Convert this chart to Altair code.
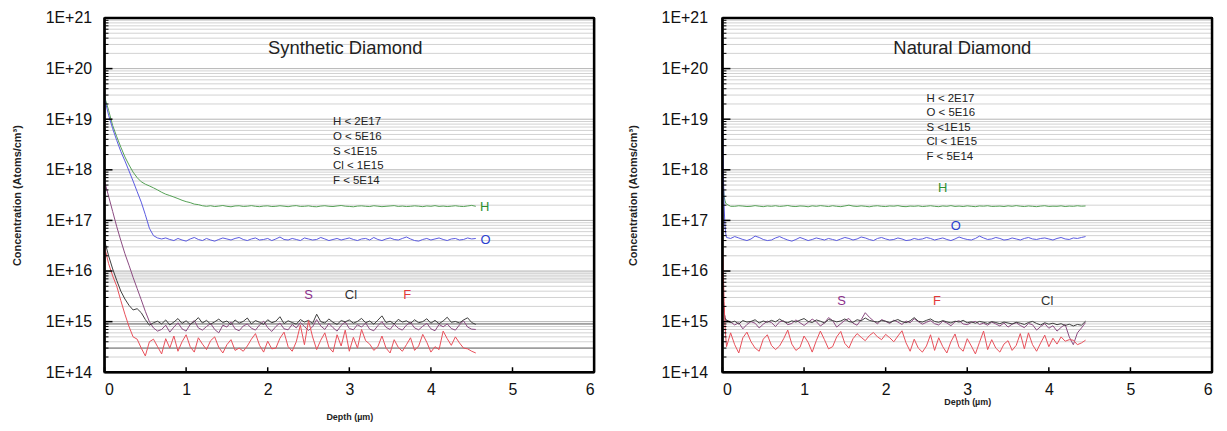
import altair as alt
import pandas as pd

FONT = "Arial"

# ---------------- data: Synthetic diamond (depth 0 .. 4.55 um, step 0.05) ----------------
depth_syn = [round(0.05 * i, 2) for i in range(92)]

H_syn = [2.8e19, 1.5e19, 7.5e18, 4.5e18, 2.8e18, 1.8e18, 1.25e18, 9.0e17, 7.0e17, 5.8e17,
         5.2e17, 4.8e17, 4.4e17, 4.0e17, 3.6e17, 3.3e17, 3.1e17, 2.9e17, 2.7e17, 2.5e17,
         2.35e17, 2.25e17, 2.1e17, 2.05e17, 1.95e17, 1.9e17] + [v * 1e17 for v in [
    1.95, 1.88, 1.92, 1.97, 1.90, 1.86, 1.93, 1.95, 1.89, 1.91,
    1.96, 1.90, 1.87, 1.92, 1.94, 1.88, 1.90, 1.95, 1.91, 1.87,
    1.93, 1.96, 1.89, 1.90, 1.94, 1.88, 1.86, 1.92, 1.95, 1.90,
    1.88, 1.93, 1.97, 1.91, 1.89, 1.86, 1.92, 1.94, 1.90, 1.88,
    1.95, 1.91, 1.87, 1.90, 1.93, 1.96, 1.89, 1.92, 1.88, 1.90,
    1.94, 1.91, 1.87, 1.93, 1.90, 1.96, 1.89, 1.92, 1.88, 1.91,
    1.95, 1.90, 1.88, 1.93, 1.98, 1.90]]

O_syn = [2.6e19, 1.2e19, 6.5e18, 3.8e18, 2.3e18, 1.5e18, 9.5e17, 6.0e17, 3.7e17, 2.3e17,
         1.3e17, 7.0e16, 5.0e16, 4.5e16, 4.3e16] + [v * 1e16 for v in [
    4.5, 4.2, 4.0, 4.4, 4.1, 3.9, 4.3, 4.6, 4.2, 4.0,
    4.4, 4.1, 3.9, 4.2, 4.5, 4.3, 4.1, 4.4, 4.6, 4.2,
    4.0, 4.3, 4.5, 4.1, 4.2, 4.4, 4.0, 4.3, 4.7, 4.2,
    4.1, 4.4, 4.2, 4.0, 4.5, 4.3, 4.1, 4.2, 4.6, 4.3,
    4.0, 4.2, 4.4, 4.1, 4.3, 4.5, 4.2, 4.0, 4.3, 4.4,
    4.1, 4.6, 4.2, 4.0, 4.3, 4.5, 4.2, 4.1, 4.4, 4.7,
    4.3, 4.0, 3.9, 4.2, 4.4, 4.1, 4.3, 4.5, 4.2, 4.0,
    4.3, 4.4, 4.1, 4.2, 4.5, 4.3, 4.4]]

S_syn = [6.0e17, 3.0e17, 1.5e17, 7.5e16, 4.0e16, 2.2e16, 1.3e16, 7.5e15, 4.5e15, 2.7e15,
         1.6e15, 1.0e15, 7.5e14, 6.5e14] + [v * 1e14 for v in [
    7.0, 8.5, 6.2, 7.8, 9.5, 7.2, 6.5, 8.8, 10.5, 7.5,
    6.8, 8.0, 9.2, 7.0, 6.0, 8.5, 7.8, 9.8, 7.2, 6.6,
    8.2, 9.0, 7.4, 6.8, 8.6, 10.2, 7.6, 6.4, 8.0, 9.4,
    7.2, 6.9, 8.8, 7.5, 9.6, 8.0, 6.7, 7.9, 11.0, 8.2,
    7.0, 9.2, 7.6, 6.5, 8.4, 9.9, 7.3, 6.9, 8.7, 7.8,
    9.4, 7.1, 6.6, 8.3, 10.0, 7.7, 7.0, 8.9, 7.4, 6.8,
    8.5, 9.7, 7.5, 6.9, 8.1, 9.3, 7.2, 6.6, 8.8, 7.9,
    9.0, 7.3, 6.8, 8.6, 10.4, 7.8, 7.1, 7.0]]

Cl_syn = [4.0e16, 2.0e16, 1.1e16, 6.5e15, 4.0e15, 2.8e15, 2.1e15, 1.7e15, 1.8e15, 1.5e15,
          1.1e15, 8.5e14, 9.5e14] + [v * 1e14 for v in [
    10.2, 9.0, 10.8, 8.6, 9.8, 11.5, 9.2, 10.4, 8.8, 10.0,
    12.0, 9.4, 10.6, 8.9, 9.9, 11.2, 9.6, 10.3, 8.7, 10.8,
    9.3, 10.1, 11.8, 9.0, 10.5, 9.7, 8.8, 10.9, 9.5, 10.2,
    12.5, 9.1, 10.4, 9.6, 8.9, 11.0, 9.8, 10.6, 9.2, 14.0,
    10.0, 9.4, 11.3, 9.7, 8.8, 10.5, 9.9, 10.8, 9.3, 10.1,
    11.6, 9.5, 10.3, 8.9, 10.7, 13.0, 9.6, 10.2, 9.0, 11.1,
    9.8, 10.4, 9.2, 10.9, 9.5, 10.0, 11.4, 9.3, 10.6, 9.1,
    10.3, 12.2, 9.7, 10.1, 9.4, 10.8, 11.9, 9.6, 8.8]]

F_syn = [3.0e16, 1.4e16, 8.0e15, 5.0e15, 2.6e15, 1.4e15, 8.0e14, 5.0e14, 4.5e14, 3.0e14,
         2.1e14, 4.0e14, 4.5e14, 3.2e14, 2.3e14] + [v * 1e14 for v in [
    4.6, 3.0, 5.2, 2.6, 4.0, 5.5, 3.2, 2.5, 4.8, 3.6,
    2.8, 4.2, 5.0, 3.1, 2.4, 3.5, 4.4, 2.7, 3.0, 2.6,
    3.3, 4.5, 5.8, 3.4, 2.5, 4.1, 2.9, 3.0, 4.7, 6.2,
    3.2, 2.6, 4.0, 8.5, 3.5, 10.5, 5.0, 2.8, 4.3, 6.0,
    3.1, 2.5, 5.5, 3.3, 6.8, 2.6, 4.9, 3.0, 7.0, 4.2,
    3.6, 2.7, 3.2, 5.2, 3.0, 2.4, 4.4, 3.1, 2.6, 3.5,
    4.8, 2.7, 3.3, 5.6, 3.9, 2.5, 3.2, 2.8, 6.5, 4.6,
    3.4, 5.0, 3.8, 3.0, 2.9, 2.6, 2.4]]

# ---------------- data: Natural diamond (depth 0 .. 4.45 um) ----------------
depth_nat = [0.0, 0.01, 0.02, 0.03, 0.04] + [round(0.05 * i, 2) for i in range(1, 90)]

H_nat = [1.0e18, 5.0e17, 3.0e17, 2.5e17, 2.2e17, 2.1e17, 1.9e17] + [v * 1e17 for v in [
    1.90, 1.95, 1.92, 1.88, 1.90, 1.96, 1.91, 1.87, 1.93, 1.90,
    1.95, 1.89, 1.92, 1.97, 1.90, 1.88, 1.93, 1.91, 1.86, 1.94,
    1.90, 1.96, 1.92, 1.88, 1.95, 1.90, 1.87, 1.93, 2.00, 1.92,
    1.89, 1.94, 1.90, 1.86, 1.92, 1.95, 1.90, 1.88, 1.93, 1.91,
    1.96, 1.89, 1.87, 1.92, 1.90, 1.94, 1.88, 1.91, 1.95, 1.90,
    1.87, 1.93, 1.90, 1.96, 1.89, 1.92, 1.88, 1.94, 1.90, 1.87,
    1.93, 1.91, 1.95, 1.89, 1.90, 1.92, 1.88, 1.94, 1.90, 1.96,
    1.91, 1.88, 1.93, 1.90, 1.87, 1.92, 1.95, 1.89, 1.91, 1.90,
    1.94, 1.88, 1.92, 1.90, 1.95, 1.91, 1.93]]

O_nat = [1.0e19, 1.0e18, 2.0e17, 8.0e16, 5.5e16, 4.6e16] + [v * 1e16 for v in [
    4.4, 4.8, 4.5, 4.2, 4.0, 4.3, 4.9, 4.6, 4.2, 4.0,
    4.1, 4.5, 4.8, 4.4, 4.1, 3.9, 4.2, 4.6, 4.3, 4.0,
    4.2, 4.5, 4.3, 4.1, 4.4, 4.2, 4.0, 4.3, 4.6, 4.4,
    4.1, 4.3, 4.7, 4.5, 4.2, 4.0, 4.4, 4.6, 4.3, 4.1,
    4.2, 4.5, 4.3, 4.0, 4.1, 4.4, 4.2, 4.3, 4.6, 4.4,
    4.1, 4.3, 4.5, 4.2, 4.0, 4.3, 4.7, 4.4, 4.2, 4.1,
    4.4, 4.9, 4.5, 4.2, 4.3, 4.6, 4.4, 4.1, 4.2, 4.5,
    4.3, 4.1, 4.4, 4.6, 4.3, 4.2, 4.4, 4.5, 4.3, 4.1,
    4.4, 4.6, 4.3, 4.2, 4.5, 4.4, 4.6, 4.8]]

S_nat = [4.0e15, 2.5e15, 1.6e15, 1.2e15, 1.05e15] + [v * 1e14 for v in [
    10.5, 9.8, 8.6, 9.5, 7.2, 8.8, 10.0, 9.3, 7.5, 8.9,
    10.2, 9.6, 8.0, 9.9, 10.4, 8.7, 9.2, 10.8, 9.5, 8.4,
    9.7, 11.2, 10.0, 8.2, 9.4, 12.0, 10.5, 7.8, 9.1, 10.6,
    11.5, 9.3, 8.5, 10.9, 15.0, 12.2, 10.4, 9.0, 11.0, 10.1,
    9.2, 10.7, 9.8, 8.8, 10.3, 9.5, 11.4, 10.0, 8.9, 9.7,
    10.5, 9.1, 8.6, 10.2, 9.4, 8.3, 9.9, 10.4, 9.0, 8.7,
    9.6, 10.1, 8.8, 9.3, 8.5, 9.8, 9.0, 8.2, 9.4, 7.8,
    8.9, 9.5, 8.4, 7.6, 9.2, 8.7, 6.8, 8.0, 9.1, 7.4,
    8.3, 6.5, 7.7, 8.8, 5.0, 3.5, 6.0, 7.5, 9.6]]

Cl_nat = [8.0e15, 3.0e15, 1.6e15, 1.2e15, 1.1e15] + [v * 1e14 for v in [
    10.8, 9.6, 10.2, 9.0, 10.5, 9.8, 10.1, 10.9, 9.4, 10.3,
    9.7, 10.6, 9.9, 11.2, 10.0, 9.5, 10.4, 9.8, 10.7, 11.5,
    10.1, 9.6, 10.8, 10.2, 9.4, 11.0, 10.5, 9.9, 10.3, 11.3,
    10.0, 9.7, 10.9, 10.4, 11.8, 10.6, 10.1, 9.8, 10.5, 10.2,
    9.6, 10.3, 11.0, 10.0, 9.5, 10.4, 12.0, 10.2, 9.8, 10.6,
    11.3, 10.1, 9.7, 10.5, 9.9, 9.4, 10.2, 9.8, 10.6, 9.5,
    9.9, 9.3, 10.1, 9.7, 9.2, 10.0, 9.6, 9.1, 9.8, 9.4,
    9.0, 9.7, 9.3, 8.8, 9.6, 10.1, 9.2, 8.6, 9.5, 8.9,
    9.3, 8.7, 9.1, 8.4, 8.9, 8.2, 8.8, 8.5, 10.2]]

F_nat = [3.0e16, 1.0e16, 2.5e15, 9.0e14, 5.0e14] + [v * 1e14 for v in [
    3.2, 6.0, 3.5, 2.4, 4.8, 6.2, 4.0, 3.0, 2.6, 4.5,
    5.5, 3.4, 2.8, 3.3, 4.6, 6.8, 3.6, 2.7, 3.1, 5.2,
    3.9, 2.5, 4.2, 6.5, 4.4, 2.9, 3.2, 5.0, 6.4, 3.7,
    3.0, 4.6, 5.8, 4.9, 4.2, 5.3, 6.1, 5.0, 4.4, 5.6,
    4.8, 4.0, 5.2, 6.6, 3.8, 2.6, 4.5, 3.0, 2.5, 3.3,
    5.5, 2.7, 4.8, 3.2, 2.4, 4.0, 5.7, 3.1, 2.6, 4.6,
    3.3, 2.3, 3.9, 6.5, 2.8, 4.4, 3.0, 2.5, 3.6, 4.2,
    2.7, 3.4, 5.8, 2.9, 6.0, 3.5, 2.6, 3.8, 5.4, 3.2,
    4.7, 3.6, 5.0, 4.1, 4.4, 4.3, 3.5, 3.8, 4.3]]

for s in (H_syn, O_syn, S_syn, Cl_syn, F_syn):
    assert len(s) == len(depth_syn), len(s)
for s in (H_nat, O_nat, S_nat, Cl_nat, F_nat):
    assert len(s) == len(depth_nat), len(s)

elements = ["H", "O", "S", "Cl", "F"]
line_colors = ["#55a055", "#5a5ae0", "#8a4a80", "#3c3c3c", "#e8505a"]
label_colors = {"H": "#2f8f2f", "O": "#2a3fd0", "S": "#8b2f8b", "Cl": "#333333", "F": "#e33a3a"}

detection_note = "H < 2E17\nO < 5E16\nS <1E15\nCl < 1E15\nF < 5E14"

# label positions (depth, concentration)
syn_labels = {"H": (4.66, 1.8e17), "O": (4.67, 4.1e16), "S": (2.5, 3.3e15),
              "Cl": (3.02, 3.4e15), "F": (3.71, 3.3e15)}
nat_labels = {"H": (2.70, 4.3e17), "O": (2.86, 7.8e16), "S": (1.46, 2.6e15),
              "F": (2.63, 2.6e15), "Cl": (3.98, 2.6e15)}

decades = [10.0 ** e for e in range(14, 22)]
minor_grid = [m * 10.0 ** e for e in range(14, 21) for m in range(2, 10)]
x_ticks = [0, 1, 2, 3, 4, 5, 6]
x_domain = [0, 6]
y_domain = [1e14, 1e21]

yscale = alt.Scale(type="log", domain=y_domain, nice=False)
xscale = alt.Scale(domain=x_domain, nice=False, zero=False)

W, H = 492, 356


def panel(depth, series, title_txt, title_pos, note_pos, labels, dark_lines, band,
          ylab_pad, ytitle_pad, xtitle_pad):
    yaxis = alt.Axis(values=decades, labelExpr="'1E+' + round(log(datum.value) / LN10)",
                     grid=False, ticks=False, domain=False, labelFontSize=16,
                     labelPadding=ylab_pad, labelColor="#111", labelFont=FONT,
                     title="Concentration (Atoms/cm³)", titleFontSize=11,
                     titleFontWeight="bold", titlePadding=ytitle_pad, titleColor="#222",
                     titleFont=FONT)
    xaxis = alt.Axis(values=x_ticks, format="d", grid=False, ticks=False, domain=False,
                     labelFontSize=16, labelPadding=9, labelColor="#111", labelFont=FONT,
                     title="Depth (µm)", titleFontSize=9, titleFontWeight="bold",
                     titlePadding=xtitle_pad, titleColor="#222", titleFont=FONT)
    X = alt.X("depth:Q", scale=xscale, axis=xaxis)
    Y = alt.Y("conc:Q", scale=yscale, axis=yaxis)

    rows = []
    for name, vals in zip(elements, series):
        for d, v in zip(depth, vals):
            rows.append({"depth": d, "conc": v, "el": name})
    lines_df = pd.DataFrame(rows)

    layers = []
    if band is not None:
        layers.append(alt.Chart(pd.DataFrame({"conc": [band[0]], "hi": [band[1]]}))
                      .mark_rect(color="#a8a8a8", opacity=0.22)
                      .encode(y=Y, y2="hi:Q"))
    layers.append(alt.Chart(pd.DataFrame({"conc": minor_grid}))
                  .mark_rule(color="#d2d2d2", strokeWidth=1).encode(y=Y))
    layers.append(alt.Chart(pd.DataFrame({"conc": decades}))
                  .mark_rule(color="#b4b4b4", strokeWidth=1).encode(y=Y))
    if dark_lines:
        layers.append(alt.Chart(pd.DataFrame({"conc": dark_lines}))
                      .mark_rule(color="#6a6a6a", strokeWidth=1).encode(y=Y))
    layers.append(alt.Chart(lines_df).mark_line(strokeWidth=1, clip=True).encode(
        x=X, y=Y,
        color=alt.Color("el:N", scale=alt.Scale(domain=elements, range=line_colors), legend=None)))
    # inward ticks on the frame
    layers.append(alt.Chart(pd.DataFrame({"conc": minor_grid}))
                  .mark_rule(color="#000", strokeWidth=1)
                  .encode(y=Y, x=alt.value(0), x2=alt.value(4)))
    layers.append(alt.Chart(pd.DataFrame({"conc": decades}))
                  .mark_rule(color="#000", strokeWidth=1.5)
                  .encode(y=Y, x=alt.value(0), x2=alt.value(8)))
    layers.append(alt.Chart(pd.DataFrame({"depth": x_ticks}))
                  .mark_rule(color="#000", strokeWidth=1.5)
                  .encode(x=X, y=alt.value(H), y2=alt.value(H - 5)))
    # frame: bottom and top edges as horizontal rules at the domain ends,
    # left and right edges as vertical rules at the domain ends
    layers.append(alt.Chart(pd.DataFrame({"conc": y_domain}))
                  .mark_rule(color="#000", strokeWidth=2.5).encode(y=Y))
    layers.append(alt.Chart(pd.DataFrame({"depth": x_domain}))
                  .mark_rule(color="#000", strokeWidth=2.5).encode(x=X))
    # title text
    layers.append(alt.Chart(pd.DataFrame({"depth": [title_pos[0]], "conc": [title_pos[1]],
                                          "t": [title_txt]}))
                  .mark_text(fontSize=18.5, font=FONT, color="#222", align="center",
                             baseline="middle")
                  .encode(x=X, y=Y, text="t:N"))
    # detection limits note
    layers.append(alt.Chart(pd.DataFrame({"depth": [note_pos[0]], "conc": [note_pos[1]],
                                          "t": [detection_note]}))
                  .mark_text(fontSize=11.5, font=FONT, color="#222", align="left",
                             baseline="top", lineBreak="\n", lineHeight=14.7)
                  .encode(x=X, y=Y, text="t:N"))
    # element labels
    lab_df = pd.DataFrame([{"depth": p[0], "conc": p[1], "t": k, "c": label_colors[k]}
                           for k, p in labels.items()])
    layers.append(alt.Chart(lab_df)
                  .mark_text(fontSize=13, font=FONT, align="center", baseline="middle")
                  .encode(x=X, y=Y, text="t:N", color=alt.Color("c:N", scale=None)))
    return alt.layer(*layers).properties(width=W, height=H)


left = panel(depth_syn, [H_syn, O_syn, S_syn, Cl_syn, F_syn], "Synthetic Diamond",
             (2.95, 2.6e20), (2.80, 1.13e19), syn_labels, [9.0e14, 3.0e14], (6.0e15, 1.0e16),
             ylab_pad=13, ytitle_pad=23, xtitle_pad=16)
right = panel(depth_nat, [H_nat, O_nat, S_nat, Cl_nat, F_nat], "Natural Diamond",
              (2.94, 2.6e20), (2.50, 3.35e19), nat_labels, [], None,
              ylab_pad=15, ytitle_pad=23, xtitle_pad=0)

chart = (alt.hconcat(left, right, spacing=29)
         .properties(padding={"left": 2, "top": 0, "right": 4, "bottom": 4},
                     background="white")
         .configure_view(stroke="#000000", strokeWidth=2))

chart.save("out.html", embed_options={"renderer": "svg", "actions": False})
